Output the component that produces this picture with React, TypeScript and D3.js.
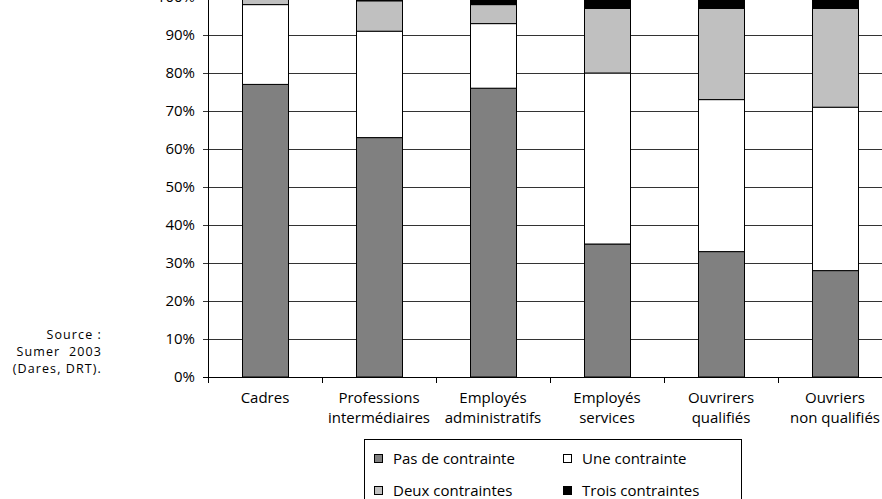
import React from "react";
import * as d3 from "d3";

const categories = [
  ["Cadres"],
  ["Professions", "intermédiaires"],
  ["Employés", "administratifs"],
  ["Employés", "services"],
  ["Ouvrirers", "qualifiés"],
  ["Ouvriers", "non qualifiés"],
];
const seriesNames = ["Pas de contrainte", "Une contrainte", "Deux contraintes", "Trois contraintes"];
const seriesColors = ["#808080", "#ffffff", "#c0c0c0", "#000000"];
const pasDeContrainte = [77, 63, 76, 35, 33, 28];
const uneContrainte = [21, 28, 17, 45, 40, 43];
const deuxContraintes = [2, 8, 5, 17, 24, 26];
const troisContraintes = [0, 1, 2, 3, 3, 3];
const yTicks = [0, 10, 20, 30, 40, 50, 60, 70, 80, 90, 100];
const sourceLines = ["Source :", "Sumer  2003", "(Dares, DRT)."];

const FONT = "'Open Sans', sans-serif";

export default function App() {
  const W = 882, H = 499;
  const x0 = 208, bandW = 114;
  const x = d3.scaleBand<number>().domain(d3.range(categories.length)).range([x0, x0 + bandW * categories.length]).paddingInner(0).paddingOuter(0);
  const y = d3.scaleLinear().domain([0, 100]).range([377, -3]);
  const barW = 46;
  const series = [pasDeContrainte, uneContrainte, deuxContraintes, troisContraintes];
  const stackData = categories.map((_, i) => ({ a: series[0][i], b: series[1][i], c: series[2][i], d: series[3][i] }));
  const stacked = d3.stack<any>().keys(["a", "b", "c", "d"])(stackData);
  const right = x0 + bandW * categories.length;
  const fs = 15;

  return (
    <svg width={W} height={H} style={{ position: "absolute", left: 0, top: 0, background: "#fff" }} fontFamily={FONT}>
      {/* gridlines */}
      {yTicks.slice(1).map((t) => (
        <line key={"g" + t} x1={x0 - 5} x2={right} y1={Math.round(y(t)) + 0.5} y2={Math.round(y(t)) + 0.5} stroke="#333" strokeWidth={1} />
      ))}
      {/* bars */}
      {stacked.map((s, si) =>
        s.map((d, i) => {
          const h = y(d[0]) - y(d[1]);
          if (h <= 0) return null;
          const bx = (x(i) as number) + (bandW - barW) / 2;
          return (
            <rect key={si + "-" + i} x={bx + 0.5} y={y(d[1])} width={barW} height={h} fill={seriesColors[si]} stroke="#000" strokeWidth={1} />
          );
        })
      )}
      {/* axes */}
      <line x1={x0 + 0.5} x2={x0 + 0.5} y1={-3} y2={377} stroke="#000" />
      <line x1={x0 - 5} x2={right} y1={377.5} y2={377.5} stroke="#000" />
      {yTicks.map((t) => (
        <text key={"t" + t} x={195} y={y(t)} dy="0.35em" textAnchor="end" fontSize={fs} fill="#000">{t}%</text>
      ))}
      {d3.range(categories.length + 1).map((i) => (
        <line key={"xt" + i} x1={x0 + bandW * i + 0.5} x2={x0 + bandW * i + 0.5} y1={377} y2={383} stroke="#000" />
      ))}
      {categories.map((lines, i) => (
        <text key={"c" + i} x={(x(i) as number) + bandW / 2} y={398} textAnchor="middle" fontSize={fs} fill="#000">
          {lines.map((l, k) => (
            <tspan key={k} x={(x(i) as number) + bandW / 2} y={398 + k * 20} dy="0.35em">{l}</tspan>
          ))}
        </text>
      ))}
      {/* source */}
      <text x={102} y={335} textAnchor="end" fontSize={12.5} letterSpacing={1.1} fill="#000" style={{ whiteSpace: "pre" }}>
        {sourceLines.map((l, k) => (
          <tspan key={k} x={102} y={335 + k * 17} dy="0.35em">{l}</tspan>
        ))}
      </text>
      {/* legend */}
      <rect x={364.5} y={439.5} width={377} height={80} fill="#fff" stroke="#000" />
      {seriesNames.map((n, k) => {
        const col = k % 2, row = Math.floor(k / 2);
        const lx = col === 0 ? 374 : 563;
        const ly = 459 + row * 32;
        return (
          <g key={"l" + k}>
            <rect x={lx + 0.5} y={ly - 4.5} width={8} height={8} fill={seriesColors[k]} stroke="#000" />
            <text x={lx + 19} y={ly} dy="0.35em" fontSize={fs} fill="#000">{n}</text>
          </g>
        );
      })}
    </svg>
  );
}
